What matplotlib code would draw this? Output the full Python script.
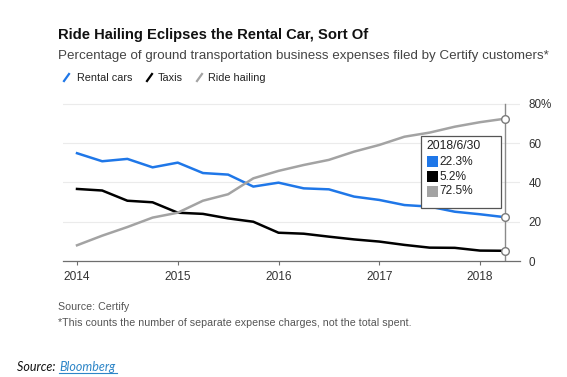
import matplotlib.pyplot as plt
from matplotlib.patches import Rectangle
from matplotlib.lines import Line2D

# quarterly points, 2014 Q1 .. 2018 Q2
x = [2014 + i * 0.25 for i in range(18)]
rental = [54.9, 50.8, 52.0, 47.7, 50.1, 44.8, 44.0, 37.9, 39.9, 37.0,
          36.5, 32.8, 31.1, 28.5, 27.7, 25.1, 23.8, 22.3]
taxis = [36.7, 35.9, 30.7, 29.9, 24.6, 24.0, 21.7, 20.0, 14.4, 13.9,
         12.4, 11.0, 9.9, 8.2, 6.8, 6.7, 5.3, 5.2]
ride = [8.0, 12.9, 17.3, 22.1, 24.6, 30.7, 34.0, 42.1, 45.9, 48.9,
        51.5, 55.7, 59.1, 63.3, 65.4, 68.4, 70.7, 72.5]
names = ['Rental cars', 'Taxis', 'Ride hailing']
colors = ['#1f77e8', '#000000', '#a3a3a3']
years = [2014, 2015, 2016, 2017, 2018]
yticks = [0, 20, 40, 60, 80]
ytick_labels = ['0', '20', '40', '60', '80%']
last_date = '2018/6/30'

plt.rcParams['font.family'] = ['Liberation Sans', 'DejaVu Sans']
W, H = 567, 377
fig = plt.figure(figsize=(W / 100, H / 100), dpi=100)
ax = fig.add_axes([63 / W, 1 - 261 / H, 457 / W, (261 - 100) / H])

for s, c in zip([rental, taxis, ride], colors):
    ax.plot(x, s, color=c, lw=1.8, solid_joinstyle='round', zorder=3)

ax.axvline(x[-1], ymin=0, ymax=80 / 82, color='#8a8a8a', lw=1.0, zorder=2)
for s in [rental, taxis, ride]:
    ax.plot(x[-1], s[-1], 'o', ms=5.5, mfc='white', mec='#7a7a7a', mew=1.0, zorder=5)

ax.set_xlim(2013.861, 2018.397)
ax.set_ylim(0, 82)
ax.set_xticks(years)
ax.set_xticklabels([str(y) for y in years])
ax.set_yticks(yticks)
ax.set_yticklabels(ytick_labels)
ax.yaxis.tick_right()
ax.grid(axis='y', color='#ebebeb', lw=0.8)
ax.set_axisbelow(True)
for sp in ['top', 'left', 'right']:
    ax.spines[sp].set_visible(False)
ax.spines['bottom'].set_color('#6e6e6e')
ax.spines['bottom'].set_linewidth(0.9)
ax.tick_params(axis='x', length=3, color='#6e6e6e', labelsize=8.6, labelcolor='#333333', pad=4)
ax.tick_params(axis='y', length=0, labelsize=8.4, labelcolor='#333333', pad=6)

# hover box
bx0, by0, bw, bh = 2017.41, 26.9, 0.80, 36.9
ax.add_patch(Rectangle((bx0, by0), bw, bh, facecolor='white', edgecolor='#555555',
                       lw=0.9, zorder=6))
ax.text(bx0 + 0.06, by0 + bh - 5.0, last_date, fontsize=8.8, color='#222222',
        va='center', zorder=7)
for i, (s, c) in enumerate(zip([rental, taxis, ride], colors)):
    yy = by0 + bh - 13.2 - i * 7.6
    ax.add_patch(Rectangle((bx0 + 0.06, yy - 2.8), 0.11, 5.6, facecolor=c,
                           edgecolor='none', zorder=7))
    ax.text(bx0 + 0.185, yy, f'{s[-1]:.1f}%', fontsize=8.6, color='#222222',
            va='center', zorder=7)

# titles
fig.text(58 / W, 1 - 35 / H, 'Ride Hailing Eclipses the Rental Car, Sort Of',
         fontsize=10.6, fontweight='bold', va='center', color='#111111')
fig.text(58 / W, 1 - 56 / H,
         'Percentage of ground transportation business expenses filed by Certify customers*',
         fontsize=9.6, va='center', color='#444444')

# legend with slash marks
leg_x = [(64, 77), (147, 158), (197, 208)]
for (lx, tx), name, c in zip(leg_x, names, colors):
    fig.add_artist(Line2D([lx / W, (lx + 5) / W], [1 - 81 / H, 1 - 74 / H],
                          color=c, lw=1.6, transform=fig.transFigure))
    fig.text(tx / W, 1 - 78 / H, name, fontsize=7.8, va='center', color='#222222')

fig.text(58 / W, 1 - 307 / H, 'Source: Certify', fontsize=7.7, va='center', color='#555555')
fig.text(58 / W, 1 - 323 / H,
         '*This counts the number of separate expense charges, not the total spent.',
         fontsize=7.7, va='center', color='#555555')

fig.text(17 / W, 1 - 367 / H, 'Source: ', fontsize=9, style='italic', family='Lato',
         va='center', color='#111111')
fig.text(59 / W, 1 - 367 / H, 'Bloomberg', fontsize=9, style='italic', family='Lato',
         va='center', color='#2e86c8')
fig.add_artist(Line2D([59 / W, 117 / W], [1 - 373 / H, 1 - 373 / H], color='#2e86c8',
                      lw=0.8, transform=fig.transFigure))

fig.savefig('out.png', dpi=100)
